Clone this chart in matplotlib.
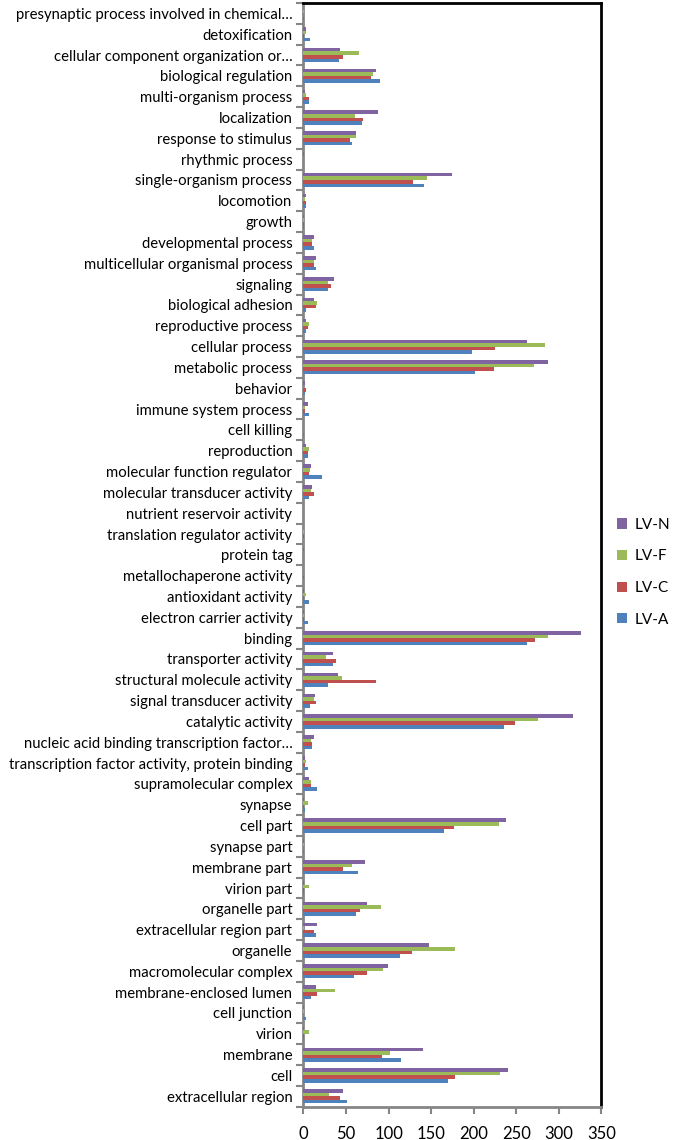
import numpy as np
import matplotlib
matplotlib.use('Agg')
import matplotlib.pyplot as plt
from matplotlib.ticker import FixedLocator

plt.rcParams['font.family'] = ['Lato', 'DejaVu Sans']

# categories, top to bottom as shown
categories = [
    'presynaptic process involved in chemical…', 'detoxification',
    'cellular component organization or…', 'biological regulation',
    'multi-organism process', 'localization', 'response to stimulus',
    'rhythmic process', 'single-organism process', 'locomotion', 'growth',
    'developmental process', 'multicellular organismal process', 'signaling',
    'biological adhesion', 'reproductive process', 'cellular process',
    'metabolic process', 'behavior', 'immune system process', 'cell killing',
    'reproduction', 'molecular function regulator',
    'molecular transducer activity', 'nutrient reservoir activity',
    'translation regulator activity', 'protein tag',
    'metallochaperone activity', 'antioxidant activity',
    'electron carrier activity', 'binding', 'transporter activity',
    'structural molecule activity', 'signal transducer activity',
    'catalytic activity', 'nucleic acid binding transcription factor…',
    'transcription factor activity, protein binding',
    'supramolecular complex', 'synapse', 'cell part', 'synapse part',
    'membrane part', 'virion part', 'organelle part',
    'extracellular region part', 'organelle', 'macromolecular complex',
    'membrane-enclosed lumen', 'cell junction', 'virion', 'membrane', 'cell',
    'extracellular region',
]

lv_a = [1, 8, 42, 90, 6, 69, 57, 0, 142, 3, 1, 12, 15, 29, 3, 3, 198, 202, 2,
        6, 1, 5, 22, 6, 0, 0, 0, 0, 6, 5, 262, 35, 29, 8, 235, 10, 5, 16, 2,
        165, 1, 64, 1, 62, 15, 113, 59, 9, 3, 1, 115, 170, 51]
lv_c = [0, 1, 46, 79, 6, 70, 55, 0, 129, 3, 1, 10, 12, 32, 15, 5, 225, 224, 3,
        2, 0, 5, 6, 12, 0, 1, 0, 1, 1, 1, 272, 38, 85, 15, 248, 10, 2, 9, 1,
        177, 0, 46, 1, 66, 12, 127, 75, 16, 0, 1, 92, 178, 43]
lv_f = [1, 3, 65, 82, 3, 61, 62, 0, 145, 2, 1, 10, 12, 29, 16, 6, 284, 271, 0,
        2, 0, 6, 8, 9, 0, 1, 0, 0, 3, 1, 287, 26, 45, 12, 275, 9, 3, 9, 5,
        230, 1, 57, 6, 91, 1, 178, 94, 37, 1, 6, 102, 231, 30]
lv_n = [0, 3, 43, 85, 2, 88, 62, 1, 175, 3, 1, 12, 15, 36, 12, 3, 262, 287, 2,
        5, 0, 3, 9, 10, 0, 0, 1, 0, 1, 1, 326, 35, 41, 14, 317, 12, 2, 6, 1,
        238, 1, 72, 1, 75, 16, 147, 99, 15, 1, 1, 141, 240, 46]

series = [('LV-A', lv_a, '#4F81BD'), ('LV-C', lv_c, '#C0504D'),
          ('LV-F', lv_f, '#9BBB59'), ('LV-N', lv_n, '#8064A2')]

n = len(categories)
ypos = np.arange(n)[::-1]
h = 0.17

fig = plt.figure(figsize=(6.85, 11.4), dpi=100)
ax = fig.add_axes([0.443, 0.0292, 0.435, 0.9682])

handles = []
for i, (name, vals, col) in enumerate(series):
    b = ax.barh(ypos + (i - 1.5) * h, vals, height=h, color=col, label=name,
                zorder=3)
    handles.append(b)

ax.set_xlim(0, 350)
ax.set_ylim(-0.5, n - 0.5)
ax.set_xticks(np.arange(0, 351, 50))
ax.set_yticks(ypos)
ax.set_yticklabels(categories, fontsize=10.7)
ax.yaxis.set_minor_locator(FixedLocator(np.arange(n + 1) - 0.5))
ax.tick_params(axis='y', which='major', length=0, pad=8)
ax.tick_params(axis='y', which='minor', length=5, width=1.5, color='#868686')
ax.tick_params(axis='x', length=5, width=1.5, color='#868686',
               labelsize=12, pad=9)

for s in ['left', 'bottom']:
    ax.spines[s].set_color('#868686')
    ax.spines[s].set_linewidth(2)
for s in ['top', 'right']:
    ax.spines[s].set_color('black')
    ax.spines[s].set_linewidth(2)

leg = fig.legend(handles[::-1], [s[0] for s in series][::-1],
                 loc='center', bbox_to_anchor=(0.94, 0.498), frameon=False,
                 fontsize=11, labelspacing=1.15, handlelength=0.65,
                 handleheight=0.65, handletextpad=0.5)

fig.savefig('out.png', dpi=100)
